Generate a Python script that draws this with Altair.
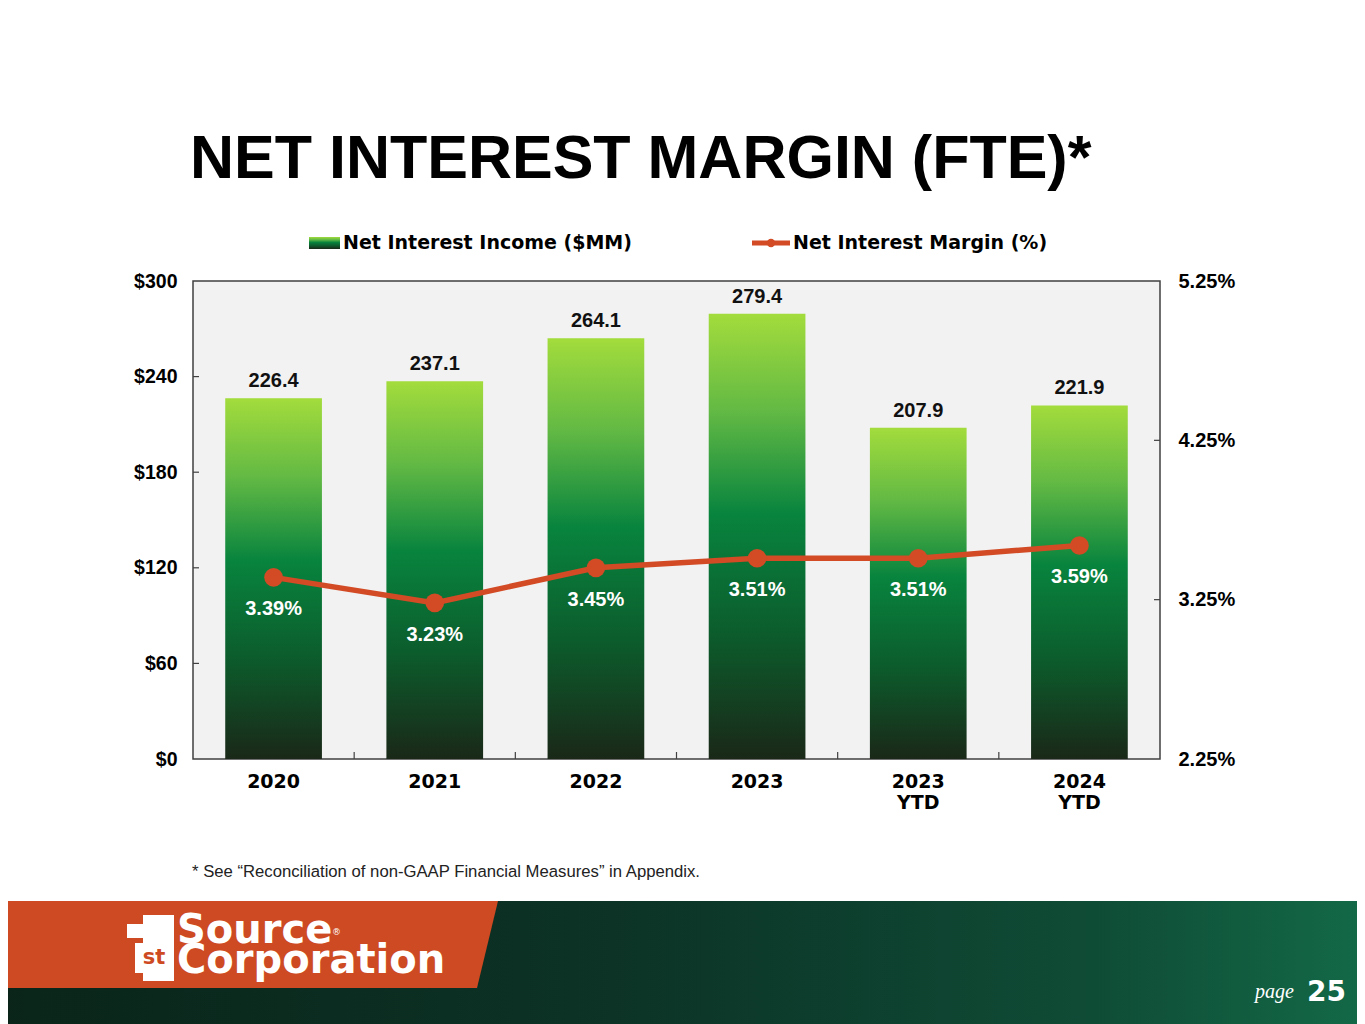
import altair as alt
import pandas as pd

# chart values
periods = ["2020", "2021", "2022", "2023", "2023 YTD", "2024 YTD"]
net_interest_income = [226.4, 237.1, 264.1, 279.4, 207.9, 221.9]
net_interest_margin = [3.39, 3.23, 3.45, 3.51, 3.51, 3.59]
income_ticks = [0, 60, 120, 180, 240, 300]
margin_ticks = [2.25, 3.25, 4.25, 5.25]

df = pd.DataFrame({"period": periods, "nii": net_interest_income, "nim": net_interest_margin})
left_tick_df = pd.DataFrame({"nii": income_ticks[1:-1]})
right_tick_df = pd.DataFrame({"nim": margin_ticks[1:-1]})
x_tick_df = pd.DataFrame({"period": periods[:-1]})
one = alt.Data(values=[{}])

W, H = 967, 478
STEP = W / len(periods)
ORANGE = "#d24b25"
FRAME = "#404040"
BOLD = "Liberation Sans"
HEAVY = "DejaVu Sans"

bar_fill = alt.Gradient(
    gradient="linear", x1=0, x2=0, y1=0, y2=1,
    stops=[
        alt.GradientStop(color="#a3dc3c", offset=0),
        alt.GradientStop(color="#62b944", offset=0.22),
        alt.GradientStop(color="#08843e", offset=0.45),
        alt.GradientStop(color="#0c5c2c", offset=0.72),
        alt.GradientStop(color="#1a2818", offset=1),
    ],
)

x_scale = alt.Scale(paddingInner=0.4, paddingOuter=0.2)
x_axis = alt.Axis(
    title=None, labelAngle=0, labelFont=HEAVY, labelFontWeight="bold",
    labelFontSize=19, labelColor="#000000", labelPadding=13,
    labelLineHeight=21, labelExpr="split(datum.label, ' ')",
    domain=False, ticks=False, grid=False,
)
x_enc = alt.X("period:N", sort=periods, scale=x_scale, axis=x_axis)

y_income = alt.Y(
    "nii:Q", scale=alt.Scale(domain=[0, 300], nice=False),
    axis=alt.Axis(
        orient="left", title=None, values=income_ticks,
        labelExpr="'$' + datum.value", labelFont=BOLD, labelFontWeight="bold",
        labelFontSize=19.5, labelColor="#000000", labelPadding=16,
        domain=False, ticks=False, grid=False,
    ),
)

y_margin = alt.Y(
    "nim:Q", scale=alt.Scale(domain=[2.25, 5.25], nice=False, zero=False),
    axis=alt.Axis(
        orient="right", title=None, values=margin_ticks,
        labelExpr="format(datum.value, '.2f') + '%'", labelFont=BOLD,
        labelFontWeight="bold", labelFontSize=20, labelColor="#000000",
        labelPadding=18, domain=False, ticks=False, grid=False,
    ),
)

# --- bars (left axis)
bars = alt.Chart(df).mark_bar(color=bar_fill).encode(x=x_enc, y=y_income)
bar_labels = alt.Chart(df).mark_text(
    font=BOLD, fontWeight="bold", fontSize=20, color="#111111",
    baseline="alphabetic", dy=-11,
).encode(x=x_enc, y=y_income, text=alt.Text("nii:Q", format=".1f"))
left_ticks = alt.Chart(left_tick_df).mark_rule(color=FRAME, strokeWidth=1.2).encode(
    y=y_income, x=alt.value(0), x2=alt.value(6)
)
# category boundary ticks: end of band plus half the gap
x_ticks = alt.Chart(x_tick_df).mark_rule(
    color=FRAME, strokeWidth=1.2, xOffset=STEP * 0.2
).encode(
    x=alt.X("period:N", sort=periods, scale=x_scale, axis=x_axis, bandPosition=1),
    y=alt.value(H - 7), y2=alt.value(H),
)
left_group = alt.layer(bars, bar_labels, left_ticks, x_ticks)

# --- margin line (right axis)
line = alt.Chart(df).mark_line(color=ORANGE, strokeWidth=5.5).encode(x=x_enc, y=y_margin)
dots = alt.Chart(df).mark_circle(color=ORANGE, size=350, opacity=1).encode(x=x_enc, y=y_margin)
dot_labels = alt.Chart(df).transform_calculate(
    lbl="format(datum.nim, '.2f') + '%'"
).mark_text(
    font=BOLD, fontWeight="bold", fontSize=20, color="#ffffff",
    baseline="middle", dy=32,
).encode(x=x_enc, y=y_margin, text="lbl:N")
right_ticks = alt.Chart(right_tick_df).mark_rule(color=FRAME, strokeWidth=1.2).encode(
    y=y_margin, x=alt.value(W - 6), x2=alt.value(W)
)
right_group = alt.layer(line, dots, dot_labels, right_ticks)

# --- slide decoration: title, legend, footnote, banner
def text_at(txt, x, y, **kw):
    return alt.Chart(one).mark_text(text=txt, **kw).encode(x=alt.value(x), y=alt.value(y))

title = text_at("NET INTEREST MARGIN (FTE)*", -3, -103, font=BOLD, fontWeight="bold",
                fontSize=61, align="left", baseline="alphabetic", color="#000000")

legend_box = alt.Chart(one).mark_rect(color=bar_fill).encode(
    x=alt.value(116), x2=alt.value(147), y=alt.value(-44), y2=alt.value(-32)
)
legend_line = alt.Chart(one).mark_rule(color=ORANGE, strokeWidth=5).encode(
    x=alt.value(559), x2=alt.value(597), y=alt.value(-38)
)
legend_dot = alt.Chart(one).mark_circle(color=ORANGE, size=70, opacity=1).encode(
    x=alt.value(578), y=alt.value(-38)
)
legend_t1 = text_at("Net Interest Income ($MM)", 150, -38, font=HEAVY, fontWeight="bold",
                    fontSize=19, align="left", baseline="middle", color="#000000")
legend_t2 = text_at("Net Interest Margin (%)", 600, -38, font=HEAVY, fontWeight="bold",
                    fontSize=19, align="left", baseline="middle", color="#000000")

footnote = text_at("* See \u201cReconciliation of non-GAAP Financial Measures\u201d in Appendix.",
                   -1, 596, font=BOLD, fontSize=16.7, align="left", baseline="alphabetic",
                   color="#222222")

banner_fill = alt.Gradient(
    gradient="linear", x1=0, x2=1, y1=0, y2=0,
    stops=[
        alt.GradientStop(color="#0a2419", offset=0),
        alt.GradientStop(color="#0c3326", offset=0.45),
        alt.GradientStop(color="#0f4c36", offset=0.8),
        alt.GradientStop(color="#136a48", offset=1),
    ],
)
banner = alt.Chart(one).mark_rect(color=banner_fill).encode(
    x=alt.value(-200), x2=alt.value(1180), y=alt.value(620), y2=alt.value(750)
)
# orange parallelogram, drawn as one custom symbol (unit square -1..1)
orange_tab = alt.Chart(one).mark_point(
    shape="M-1,-0.1747L1,-0.1747L0.9157,0.1747L-1,0.1747Z",
    filled=True, color="#cd4a22", opacity=1, size=498 * 498, strokeWidth=0,
).encode(x=alt.value(56), y=alt.value(663.5))

logo_parts = [
    alt.Chart(one).mark_rect(color="#ffffff").encode(
        x=alt.value(-50), x2=alt.value(-19), y=alt.value(634), y2=alt.value(700)),
    alt.Chart(one).mark_rect(color="#ffffff").encode(
        x=alt.value(-66), x2=alt.value(-50), y=alt.value(643), y2=alt.value(657)),
    alt.Chart(one).mark_rect(color="#ffffff").encode(
        x=alt.value(-58), x2=alt.value(-19), y=alt.value(662), y2=alt.value(692)),
    text_at("st", -39, 677, font=HEAVY, fontWeight="bold", fontSize=21,
            align="center", baseline="middle", color="#cd4a22"),
    text_at(["Source", "Corporation"], -16, 662, font=HEAVY, fontWeight="bold",
            fontSize=40, lineHeight=30, align="left", baseline="alphabetic",
            color="#ffffff"),
    text_at("\u00ae", 139, 654, font=HEAVY, fontSize=9, align="left",
            baseline="alphabetic", color="#ffffff"),
]

page_word = text_at("page", 1062, 717, font="Liberation Serif", fontStyle="italic",
                    fontSize=20, align="left", baseline="alphabetic", color="#ffffff")
page_num = text_at("25", 1114, 720, font=HEAVY, fontWeight="bold", fontSize=28,
                   align="left", baseline="alphabetic", color="#ffffff")

chart = alt.layer(
    banner, orange_tab, *logo_parts, page_word, page_num,
    title, legend_box, legend_line, legend_dot, legend_t1, legend_t2, footnote,
    left_group, right_group,
).resolve_scale(
    y="independent"
).properties(
    width=W, height=H,
    autosize=alt.AutoSizeParams(type="none"),
    padding={"left": 185, "top": 273, "right": 197, "bottom": 265},
    background="#ffffff",
).configure_view(
    fill="#f2f2f2", stroke=FRAME, strokeWidth=1.5
)

chart.save("out.html", embed_options={"renderer": "svg", "actions": False})
